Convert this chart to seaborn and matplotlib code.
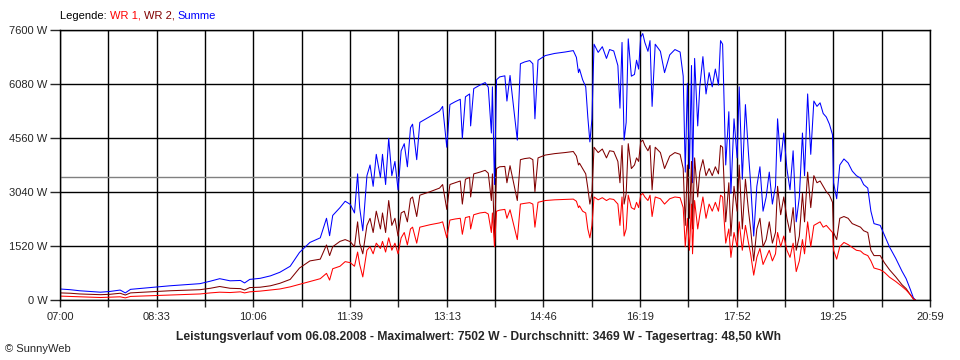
import matplotlib
matplotlib.use("Agg")
import matplotlib.pyplot as plt
import seaborn as sns
import pandas as pd
import numpy as np

# Minuten ab 07:00, Leistung in W
minuten = [0, 10, 19, 29, 39, 48, 58, 63, 68, 87, 106, 125, 135, 145, 154, 164, 174, 178,
           183, 193, 203, 212, 222, 231, 241, 251, 257, 260, 263, 270, 275, 280, 284, 287,
           289, 292, 296, 299, 302, 305, 309, 311, 314, 317, 320, 323, 326, 329, 332, 335,
           338, 340, 344, 347, 357, 366, 369, 373, 376, 381, 386, 388, 391, 395, 396, 399,
           405, 410, 413, 416, 417, 419, 421, 424, 429, 431, 434, 441, 444, 448, 453, 456,
           458, 461, 468, 477, 487, 495, 498, 500, 501, 504, 507, 509, 511, 513, 515, 519,
           523, 527, 530, 534, 538, 540, 542, 544, 546, 548, 551, 554, 556, 558, 560, 562,
           564, 567, 569, 571, 574, 579, 583, 588, 593, 598, 601, 603, 605, 607, 609, 610,
           612, 615, 617, 620, 623, 626, 629, 632, 635, 637, 639, 642, 645, 647, 650, 653,
           655, 658, 661, 664, 666, 669, 672, 675, 678, 681, 684, 687, 690, 692, 695, 698,
           701, 704, 707, 710, 713, 716, 718, 721, 724, 727, 730, 733, 736, 739, 742, 745,
           746, 749, 752, 756, 760, 764, 768, 772, 775, 779, 782, 785, 791, 795, 800, 806,
           812, 816, 820, 823, 825]

wr1 = [110, 100, 90, 80, 70, 80, 90, 60, 100, 120, 140, 160, 170, 200, 220, 210, 230, 200,
       230, 250, 280, 310, 370, 440, 520, 600, 750, 560, 880, 950, 1080, 1050, 950, 1350,
       1000, 650, 1400, 1500, 1300, 1600, 1450, 1650, 1350, 1750, 1400, 1600, 1300, 1750, 1900, 1550,
       2000, 2050, 1600, 2050, 2120, 2170, 2200, 1750, 2250, 2280, 2300, 1850, 2320, 2350, 2000, 2400,
       2450, 2470, 2420, 1900, 2450, 1500, 2500, 2530, 2550, 2300, 2540, 1700, 2700, 2720, 2740, 2700,
       2050, 2750, 2800, 2820, 2830, 2840, 2780, 2600, 2650, 2500, 2450, 2000, 1750, 2100, 2900, 2820,
       2880, 2800, 2850, 2830, 2700, 2100, 2900, 1800, 2000, 2950, 2600, 2550, 2750, 2600, 2950, 3000,
       2900, 2800, 2950, 2350, 2900, 2850, 2700, 2850, 2900, 2880, 2600, 1500, 2300, 1400, 2700, 1300,
       2800, 2000, 2400, 2900, 2300, 2700, 2500, 2750, 2500, 2950, 2900, 1600, 2000, 1200, 1900, 1500,
       2200, 1400, 2100, 1600, 1300, 700, 1200, 1450, 1000, 1200, 1400, 1100, 1300, 1900, 1500, 1800,
       1400, 1200, 1600, 800, 1100, 1700, 1300, 2200, 1500, 2100, 2150, 2200, 2050, 2100, 2000, 1900,
       1400, 1150, 1500, 1620, 1560, 1480, 1400, 1380, 1300, 1250, 1100, 900, 850, 780, 640, 520,
       380, 280, 150, 30, 0]

wr2 = [200, 190, 170, 160, 150, 160, 190, 140, 200, 230, 260, 280, 290, 330, 380, 330, 320, 280,
       350, 360, 400, 470, 580, 900, 1100, 1150, 1550, 1250, 1500, 1650, 1700, 1640, 1500, 2200,
       1600, 1300, 2100, 2300, 1900, 2500, 2000, 2450, 1900, 2800, 2100, 2300, 1800, 2450, 2500, 2200,
       2850, 2900, 2350, 2950, 3050, 3150, 3250, 2550, 3250, 3300, 3350, 2700, 3400, 3450, 2900, 3550,
       3600, 3650, 3570, 2800, 3550, 1750, 3700, 3750, 3760, 3300, 3780, 2800, 3950, 3980, 4000, 3950,
       3050, 4000, 4080, 4120, 4150, 4180, 4050, 3800, 3850, 3700, 3550, 3150, 2700, 3000, 4300, 4150,
       4250, 4000, 4200, 4180, 3900, 3300, 4350, 2700, 3000, 4400, 3700, 3800, 4000, 3900, 4450, 4500,
       4350, 4200, 4350, 3100, 4300, 4150, 3700, 4050, 4150, 4100, 3700, 2100, 3800, 2300, 3900, 2000,
       4000, 2900, 3600, 3950, 3500, 3700, 3500, 3750, 3550, 4350, 4300, 2200, 3300, 1800, 3200, 2500,
       3800, 2000, 3400, 2500, 2000, 1100, 2000, 2300, 1500, 1700, 2200, 1600, 1900, 3200, 2400, 2900,
       2300, 1900, 2600, 1400, 1800, 3000, 2200, 3600, 2600, 3500, 3300, 3350, 3200, 3050, 2950, 2750,
       1900, 1700, 2300, 2350, 2300, 2150, 2100, 2050, 1950, 1900, 1400, 1250, 1250, 1050, 850, 650,
       430, 320, 150, 30, 0]

summe = [a + b for a, b in zip(wr1, wr2)]

durchschnitt = 3469
zeit_labels = ["07:00", "08:33", "10:06", "11:39", "13:13", "14:46", "16:19", "17:52", "19:25", "20:59"]
y_ticks = [0, 1520, 3040, 4560, 6080, 7600]
ende = 839

df = pd.concat([
    pd.DataFrame({"t": minuten, "P": summe, "Serie": "Summe"}),
    pd.DataFrame({"t": minuten, "P": wr2, "Serie": "WR 2"}),
    pd.DataFrame({"t": minuten, "P": wr1, "Serie": "WR 1"}),
])

farben = {"WR 1": "#ff0000", "WR 2": "#800000", "Summe": "#0000ff"}

sns.set_style("white")
plt.rcParams["font.family"] = ["Liberation Sans", "DejaVu Sans"]

fig = plt.figure(figsize=(9.6, 3.6), dpi=100)
ax = fig.add_axes([60 / 960, 1 - 300 / 360, 870 / 960, 270 / 360])

# Raster
for xv in np.linspace(0, ende, 19):
    ax.axvline(xv, color="black", lw=1.0, zorder=1)
for yv in y_ticks:
    ax.axhline(yv, color="black", lw=1.0, zorder=1)
ax.axhline(durchschnitt, color="#808080", lw=1.0, zorder=1.5)

sns.lineplot(data=df, x="t", y="P", hue="Serie", palette=farben, estimator=None,
             sort=False, lw=0.75, legend=False, ax=ax, zorder=2)

ax.set_xlim(0, ende)
ax.set_ylim(0, 7600)
ax.set_xticks(np.linspace(0, ende, 10))
ax.set_xticklabels(zeit_labels)
ax.set_xticks(np.linspace(0, ende, 19), minor=True)
ax.set_yticks(y_ticks)
ax.set_yticklabels([f"{v} W" for v in y_ticks])
ax.tick_params(axis="x", which="both", direction="out", length=5, width=1, pad=4,
               labelsize=8, bottom=True)
ax.tick_params(axis="y", direction="out", length=7, width=1, pad=2, labelsize=8, left=True)
ax.set_xlabel("")
ax.set_ylabel("")
for s in ax.spines.values():
    s.set_color("black")
    s.set_linewidth(1.0)

# Legende oben
t0 = fig.text(60 / 960, 1 - 16 / 360, "Legende: ", fontsize=8, color="black", va="center")
prev = t0
for txt, col in [("WR 1, ", "#ff0000"), ("WR 2, ", "#800000"), ("Summe", "#0000ff")]:
    prev = ax.annotate(txt, xy=(1, 0), xycoords=prev, xytext=(0, 0), textcoords="offset points",
                       fontsize=8, color=col, va="bottom", ha="left")

fig.text(479 / 960, 1 - 337 / 360,
         "Leistungsverlauf vom 06.08.2008 - Maximalwert: 7502 W - Durchschnitt: 3469 W - Tagesertrag: 48,50 kWh",
         ha="center", va="center", fontsize=8.7, fontweight="bold")
fig.text(5 / 960, 1 - 349 / 360, "© SunnyWeb", ha="left", va="center", fontsize=8)

fig.savefig("out.png", dpi=100, facecolor="white")
